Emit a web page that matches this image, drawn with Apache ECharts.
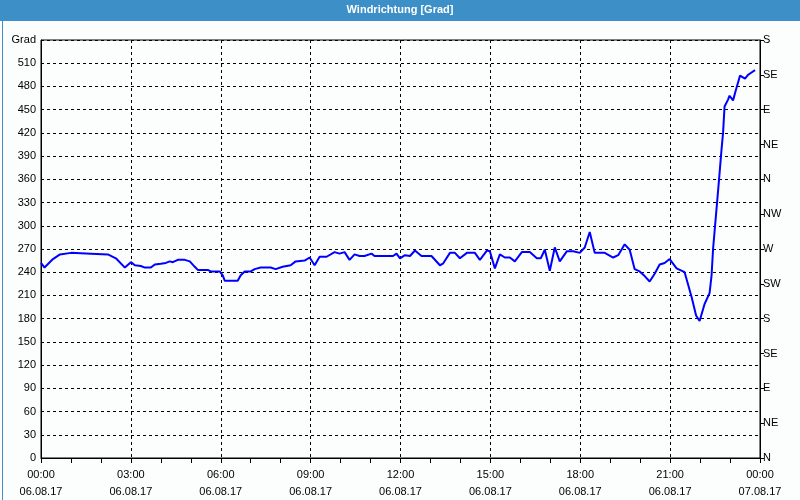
<!DOCTYPE html>
<html>
<head>
<meta charset="utf-8">
<script src="https://cdn.jsdelivr.net/npm/echarts@6/dist/echarts.min.js"></script>
<style>
html,body{margin:0;padding:0;background:#fcfefe;}
#c{width:800px;height:500px;}
</style>
</head>
<body>
<div id="c"></div>
<script>
// Times (HH:MM on 06.08.17) and wind direction in degrees (unwrapped, may exceed 360)
const times = ["00:00","00:07","00:24","00:38","01:00","01:40","02:14","02:30","02:48","03:00",
  "03:08","03:20","03:28","03:40","03:48","04:00","04:10","04:18","04:24","04:34",
  "04:48","04:58","05:08","05:14","05:34","05:40","05:58","06:04","06:08","06:34",
  "06:40","06:48","07:00","07:08","07:20","07:40","07:50","08:04","08:20","08:30",
  "08:48","08:58","09:08","09:18","09:32","09:48","09:58","10:08","10:18","10:28",
  "10:38","10:48","11:02","11:08","11:45","11:52","11:59","12:09","12:19","12:29",
  "12:42","13:02","13:19","13:25","13:39","13:49","13:59","14:13","14:29","14:39",
  "14:53","14:59","15:09","15:19","15:29","15:39","15:49","16:03","16:19","16:33",
  "16:41","16:49","16:59","17:09","17:19","17:33","17:46","17:59","18:09","18:19",
  "18:29","18:49","19:06","19:16","19:29","19:39","19:49","19:59","20:09","20:19",
  "20:29","20:39","20:49","20:59","21:13","21:29","21:33","21:43","21:52","21:59",
  "22:09","22:19","22:23","22:26","22:30","22:34","22:38","22:43","22:46","22:49",
  "22:56","22:59","23:06","23:12","23:20","23:30","23:36","23:43","23:50"];
const direction = [252,246,257,263,265,264,263,258,246,253,
  249,248,246,246,250,251,252,254,253,256,
  256,254,247,243,243,241,241,236,229,229,
  236,241,241,244,246,246,244,247,249,254,
  255,259,249,260,260,266,264,266,256,263,
  261,261,264,261,261,264,258,262,261,268,
  261,261,249,251,265,265,258,265,265,256,
  268,267,245,263,259,259,254,266,266,258,
  258,269,242,272,254,267,267,265,272,292,
  265,265,259,262,276,269,244,241,235,228,
  238,250,252,257,245,240,238,208,184,177,
  199,213,236,270,300,330,360,399,420,454,
  463,468,462,476,494,490,495,498,501];
const leftTicks = ["0","30","60","90","120","150","180","210","240","270","300","330","360","390","420","450","480","510","Grad"];
const rightTicks = ["N","NE","E","SE","S","SW","W","NW","N","NE","E","SE","S"];
const xDates = ["06.08.17","06.08.17","06.08.17","06.08.17","06.08.17","06.08.17","06.08.17","06.08.17","07.08.17"];
const xHours = ["00:00","03:00","06:00","09:00","12:00","15:00","18:00","21:00","00:00"];
const title = "Windrichtung [Grad]";

function toH(t){const p=t.split(':');return +p[0]+(+p[1])/60;}
const data = times.map((t,i)=>[toH(t), direction[i]]);

const font = 'Liberation Sans, Arial, sans-serif';
const chart = echarts.init(document.getElementById('c'), null, {renderer:'canvas'});
chart.setOption({
  backgroundColor:'#fcfefe',
  animation:false,
  graphic:[
    {type:'rect', left:0, top:0, shape:{width:800,height:21}, style:{fill:'#3c8fc7'}, z:10},
    {type:'text', left:'center', top:4, style:{text:title, fill:'#ffffff', font:'bold 11px '+font}, z:11},
    {type:'rect', left:0, top:0, shape:{x:0.5,y:0.5,width:799,height:499}, style:{fill:null, stroke:'#3c8fc7', lineWidth:1}, silent:true, z:9}
  ],
  grid:{left:41, right:40, top:40, bottom:39, show:true, borderColor:'#000', borderWidth:1},
  xAxis:{
    type:'value', min:0, max:24, interval:3,
    axisLine:{show:true, lineStyle:{color:'#000', width:1}},
    axisTick:{show:true, length:5, lineStyle:{color:'#000'}},
    minorTick:{show:true, splitNumber:3, length:5, lineStyle:{color:'#000'}},
    splitLine:{show:true, lineStyle:{color:'#000', type:[3,3], width:1}},
    axisLabel:{
      color:'#000', fontFamily:font, fontSize:11, margin:8, lineHeight:17,
      formatter:function(v){const i=Math.round(v/3);return xHours[i]+'\n'+xDates[i];}
    }
  },
  yAxis:[
    {
      type:'value', min:0, max:540, interval:30, position:'left',
      axisLine:{show:true, lineStyle:{color:'#000'}},
      axisTick:{show:false},
      splitLine:{show:true, lineStyle:{color:'#000', type:[3,3], width:1}},
      axisLabel:{color:'#000', fontFamily:font, fontSize:11, margin:5,
        formatter:function(v){return leftTicks[Math.round(v/30)];}}
    },
    {
      type:'value', min:0, max:540, interval:45, position:'right',
      axisLine:{show:true, lineStyle:{color:'#000'}},
      axisTick:{show:true, inside:false, length:4, lineStyle:{color:'#000'}},
      splitLine:{show:false},
      axisLabel:{color:'#000', fontFamily:font, fontSize:11, margin:3,
        formatter:function(v){return rightTicks[Math.round(v/45)];}}
    }
  ],
  series:[{
    type:'line', data:data, yAxisIndex:0, showSymbol:false, symbol:'none',
    lineStyle:{color:'#0000ff', width:2}, z:5
  }]
});
</script>
</body>
</html>
